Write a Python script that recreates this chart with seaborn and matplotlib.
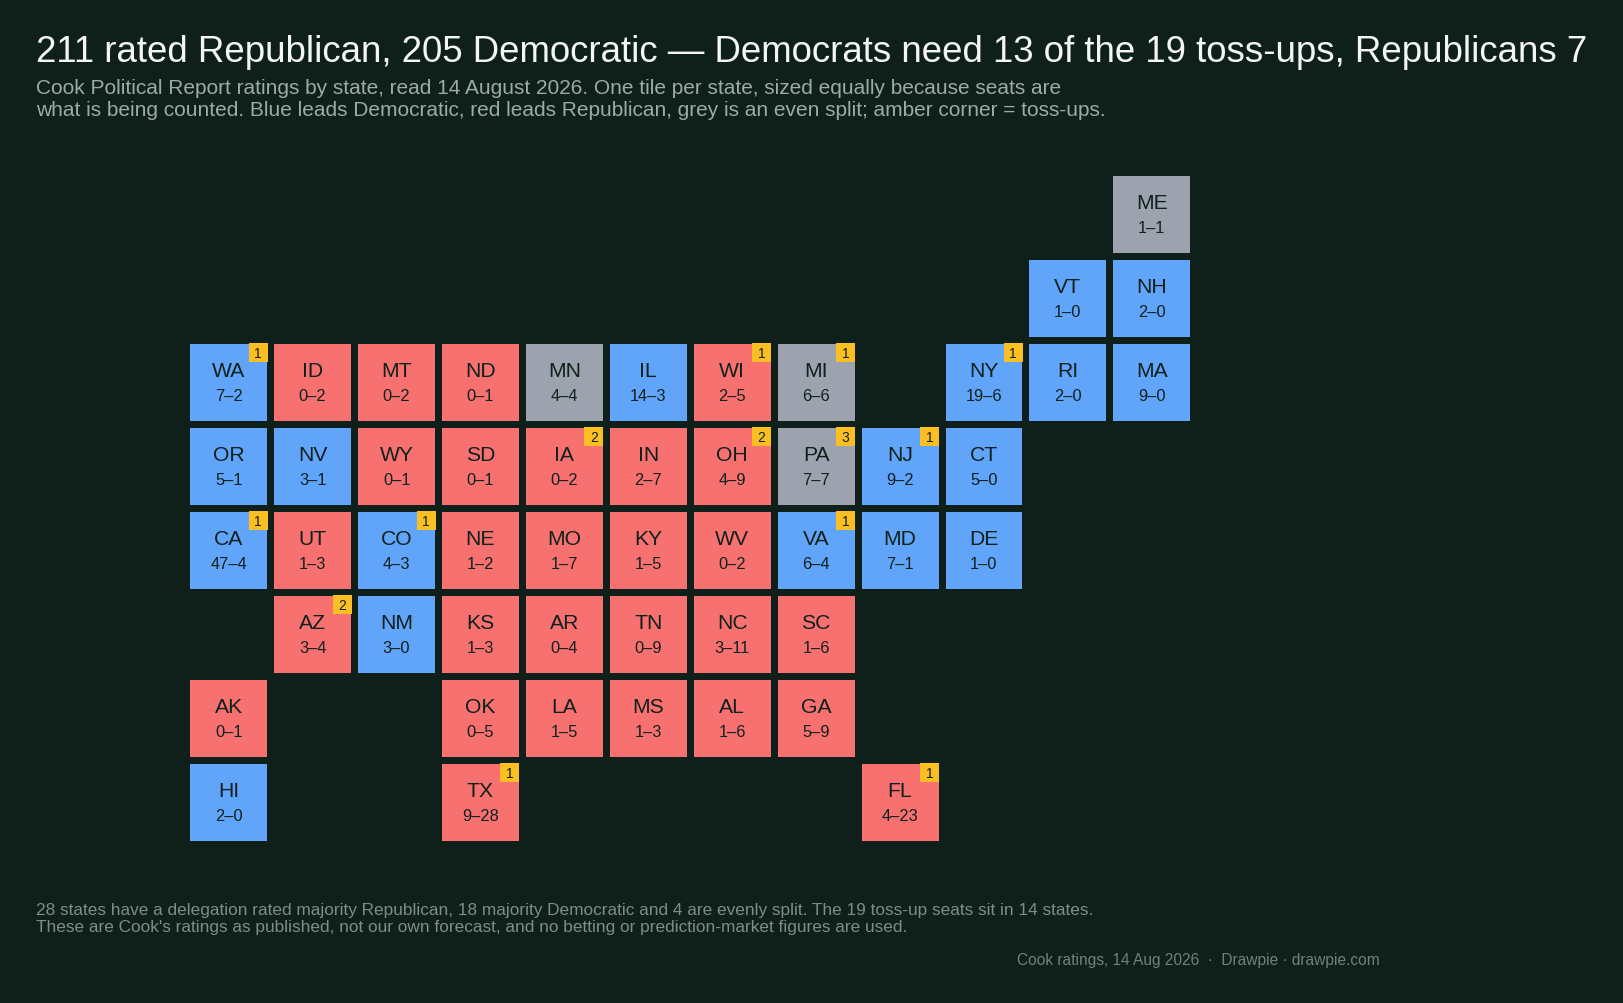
import numpy as np
import pandas as pd
import seaborn as sns
import matplotlib.pyplot as plt
from matplotlib.colors import ListedColormap
from matplotlib.patches import Rectangle

states = ["ME", "VT", "NH", "WA", "ID", "MT", "ND", "MN", "IL", "WI", "MI", "NY", "RI", "MA",
          "OR", "NV", "WY", "SD", "IA", "IN", "OH", "PA", "NJ", "CT",
          "CA", "UT", "CO", "NE", "MO", "KY", "WV", "VA", "MD", "DE",
          "AZ", "NM", "KS", "AR", "TN", "NC", "SC",
          "AK", "OK", "LA", "MS", "AL", "GA",
          "HI", "TX", "FL"]
dem_seats = [1, 1, 2, 7, 0, 0, 0, 4, 14, 2, 6, 19, 2, 9,
             5, 3, 0, 0, 0, 2, 4, 7, 9, 5,
             47, 1, 4, 1, 1, 1, 0, 6, 7, 1,
             3, 3, 1, 0, 0, 3, 1,
             0, 0, 1, 1, 1, 5,
             2, 9, 4]
rep_seats = [1, 0, 0, 2, 2, 2, 1, 4, 3, 5, 6, 6, 0, 0,
             1, 1, 1, 1, 2, 7, 9, 7, 2, 0,
             4, 3, 3, 2, 7, 5, 2, 4, 1, 0,
             4, 0, 3, 4, 9, 11, 6,
             1, 5, 5, 3, 6, 9,
             0, 28, 23]
tossups = {"WA": 1, "WI": 1, "MI": 1, "NY": 1, "IA": 2, "OH": 2, "PA": 3, "NJ": 1,
           "CA": 1, "CO": 1, "VA": 1, "AZ": 2, "TX": 1, "FL": 1}

# tile map layout, one string per row, .. is an empty cell
tile_rows = [
    ".. .. .. .. .. .. .. .. .. .. .. ME",
    ".. .. .. .. .. .. .. .. .. .. VT NH",
    "WA ID MT ND MN IL WI MI .. NY RI MA",
    "OR NV WY SD IA IN OH PA NJ CT .. ..",
    "CA UT CO NE MO KY WV VA MD DE .. ..",
    ".. AZ NM KS AR TN NC SC .. .. .. ..",
    "AK .. .. OK LA MS AL GA .. .. .. ..",
    "HI .. .. TX .. .. .. .. FL .. .. ..",
]

title = "211 rated Republican, 205 Democratic — Democrats need 13 of the 19 toss-ups, Republicans 7"
subtitle = ("Cook Political Report ratings by state, read 14 August 2026. One tile per state, sized equally because seats are\n"
            "what is being counted. Blue leads Democratic, red leads Republican, grey is an even split; amber corner = toss-ups.")
footnote = ("28 states have a delegation rated majority Republican, 18 majority Democratic and 4 are evenly split. The 19 toss-up seats sit in 14 states.\n"
            "These are Cook's ratings as published, not our own forecast, and no betting or prediction-market figures are used.")
source = "Cook ratings, 14 Aug 2026  ·  Drawpie · drawpie.com"

BG = "#0f1f1a"
DARK = "#10201b"
BLUE = "#60a5fa"
RED = "#f87171"
GREY = "#9ca3af"
AMBER = "#fbbf24"
W, H = 1623, 1004
CELL_W, CELL_H = 83.9, 84.0  # px, tile plus gap

sns.set_theme(style="white")
plt.rcParams['font.family'] = ['Liberation Sans', 'DejaVu Sans']

df = pd.DataFrame({"state": states, "dem": dem_seats, "rep": rep_seats})
df["lean"] = np.sign(df["dem"] - df["rep"])  # 1 dem, 0 even, -1 rep
df = df.set_index("state")

grid = [r.split() for r in tile_rows]
lean = pd.DataFrame([[df.lean.get(s, np.nan) for s in row] for row in grid], dtype=float)

fig = plt.figure(figsize=(W / 100, H / 100), dpi=100, facecolor=BG)
ax = fig.add_axes([186.4 / W, 1 - (172.7 + 8 * CELL_H) / H, 12 * CELL_W / W, 8 * CELL_H / H])
sns.heatmap(lean, mask=lean.isna(), cmap=ListedColormap([RED, GREY, BLUE]), vmin=-1, vmax=1,
            cbar=False, linewidths=4.8, linecolor=BG, square=False,
            xticklabels=False, yticklabels=False, ax=ax)
ax.set_facecolor(BG)

pad_x, pad_y = 2.6 / CELL_W, 3.5 / CELL_H
badge_w, badge_h = 19 / CELL_W, 19 / CELL_H
for r, row in enumerate(grid):
    for c, s in enumerate(row):
        if s == "..":
            continue
        ax.text(c + 0.505, r + 0.368, s, ha="center", va="center", fontsize=15.2, color=DARK)
        ax.text(c + 0.505, r + 0.664, f"{df.dem[s]}–{df.rep[s]}", ha="center", va="center",
                fontsize=11.8, color=DARK)
        if s in tossups:
            ax.add_patch(Rectangle((c + 1 - pad_x - badge_w, r + pad_y), badge_w, badge_h,
                                   color=AMBER, lw=0))
            ax.text(c + 1 - pad_x - badge_w / 2, r + pad_y + badge_h / 2, str(tossups[s]),
                    ha="center", va="center", fontsize=10, color=DARK)

fig.text(36 / W, 1 - 62 / H, title, fontsize=26.35, color="#f3f6f4", va="baseline")
fig.text(36 / W, 1 - 94 / H, subtitle.split("\n")[0], fontsize=15.05, color="#9aaca5", va="baseline")
fig.text(36 / W, 1 - 116 / H, subtitle.split("\n")[1], fontsize=15.05, color="#9aaca5", va="baseline")
fig.text(36 / W, 1 - 915 / H, footnote.split("\n")[0], fontsize=12.44, color="#7c8e87", va="baseline")
fig.text(36 / W, 1 - 932 / H, footnote.split("\n")[1], fontsize=12.44, color="#7c8e87", va="baseline")
fig.text(1017 / W, 1 - 965 / H, source, fontsize=11.18, color="#6f817a", va="baseline")

fig.savefig("out.png", dpi=100, facecolor=BG)
